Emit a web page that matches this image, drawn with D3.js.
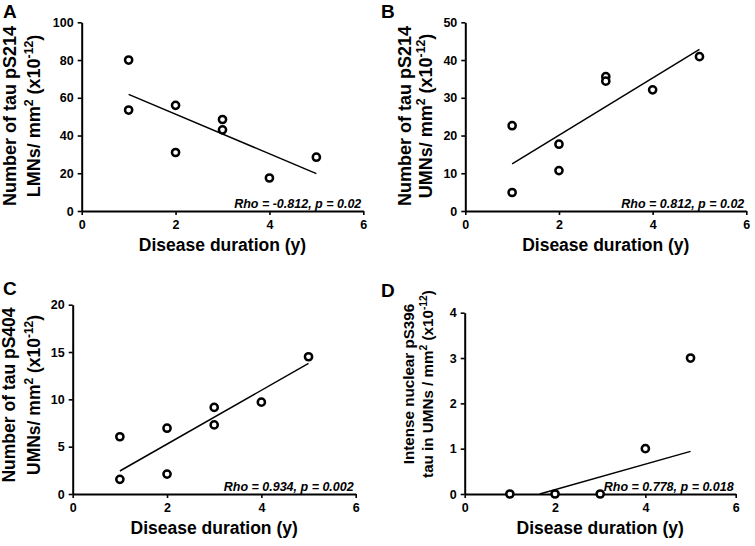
<!DOCTYPE html>
<html><head><meta charset="utf-8">
<script src="https://cdn.jsdelivr.net/npm/d3@7"></script>
<style>
body{margin:0;background:#fff;}
svg{display:block;}
text{font-family:"Liberation Sans",Arial,sans-serif;fill:#000;}
</style></head>
<body>
<script>
// ---- data ----
const xTicks = [0, 2, 4, 6];
const xLabel = "Disease duration (y)";

const durationA = [1, 1, 2, 2, 3, 3, 4, 5];
const tauA = [80, 53.5, 56, 31, 48.5, 43, 17.5, 28.5];
const fitA = [[1, 61.8], [5, 19.8]];
const yTicksA = [0, 20, 40, 60, 80, 100];
const statA = "Rho = -0.812, p = 0.02";

const durationB = [1, 1, 2, 2, 3, 3, 4, 5];
const tauB = [22.6, 4.9, 17.7, 10.7, 35.6, 34.4, 32.1, 40.9];
const fitB = [[1, 12.5], [5, 42.8]];
const yTicksB = [0, 10, 20, 30, 40, 50];
const statB = "Rho = 0.812, p = 0.02";

const durationC = [1, 1, 2, 2, 3, 3, 4, 5];
const tauC = [6.05, 1.55, 6.95, 2.1, 9.15, 7.3, 9.7, 14.5];
const fitC = [[1, 2.43], [5, 13.8]];
const yTicksC = [0, 5, 10, 15, 20];
const statC = "Rho = 0.934, p = 0.002";

const durationD = [1, 2, 3, 4, 5];
const tauD = [0, 0, 0, 1, 3];
const fitD = [[1.66, 0], [5, 0.94]];
const yTicksD = [0, 1, 2, 3, 4];
const statD = "Rho = 0.778, p = 0.018";

// ---- layout ----
const W = 755, H = 546;
const svg = d3.select("body").append("svg").attr("width", W).attr("height", H);

const panels = [
  {letter:"A", lx:3, ly:18, x0:81.7, x1:363.3, y0:211, y1:22.3, xs:durationA, ys:tauA, fit:fitA, yTicks:yTicksA, stat:statA,
   lab1:["Number of tau pS214"], lab2:"LMNs/ mm", fs:18, b1:16, b2:40, cy:116},
  {letter:"B", lx:381, ly:18, x0:465.3, x1:746.3, y0:211, y1:22.3, xs:durationB, ys:tauB, fit:fitB, yTicks:yTicksB, stat:statB,
   lab1:["Number of tau pS214"], lab2:"UMNs/ mm", fs:18, b1:411, b2:432, cy:116},
  {letter:"C", lx:3, ly:295, x0:72.7, x1:355.7, y0:494, y1:304.7, xs:durationC, ys:tauC, fit:fitC, yTicks:yTicksC, stat:statC,
   lab1:["Number of tau pS404"], lab2:"UMNs/ mm", fs:17.5, b1:15, b2:40, cy:395},
  {letter:"D", lx:381, ly:297, x0:464.7, x1:735.7, y0:494, y1:312.7, xs:durationD, ys:tauD, fit:fitD, yTicks:yTicksD, stat:statD,
   lab1:["Intense nuclear pS396"], lab2:"tau in UMNs / mm", fs:15.2, b1:414, b2:433, cy:384}
];

panels.forEach(p => {
  const x = d3.scaleLinear().domain([0, 6]).range([p.x0, p.x1]);
  const yMax = p.yTicks[p.yTicks.length - 1];
  const y = d3.scaleLinear().domain([0, yMax]).range([p.y0, p.y1]);
  const g = svg.append("g");

  // panel letter
  g.append("text").attr("x", p.lx).attr("y", p.ly).style("font-size", "19px").style("font-weight", "bold").text(p.letter);

  // axes
  const fmt = d3.format("d");
  const xa = g.append("g").attr("transform", `translate(0,${p.y0})`)
    .call(d3.axisBottom(x).tickValues(xTicks).tickFormat(fmt).tickSize(4).tickPadding(5).tickSizeOuter(0));
  const ya = g.append("g").attr("transform", `translate(${p.x0},0)`)
    .call(d3.axisLeft(y).tickValues(p.yTicks).tickFormat(fmt).tickSize(4).tickPadding(4).tickSizeOuter(0));
  [xa, ya].forEach(a => {
    a.select(".domain").attr("stroke", "#000").attr("stroke-width", 2);
    a.selectAll(".tick line").attr("stroke", "#000").attr("stroke-width", 1.6);
    a.selectAll(".tick text").style("font-size", "12.5px").style("font-weight", "bold")
      .style("font-family", "'Liberation Sans',Arial,sans-serif").attr("fill", "#000");
  });

  // x label
  g.append("text").attr("x", (p.x0 + p.x1) / 2).attr("y", p.y0 + 40).attr("text-anchor", "middle")
    .style("font-size", "17.5px").style("font-weight", "bold").text(xLabel);

  // y label (two lines)
  g.append("text").attr("transform", `translate(${p.b1},${p.cy}) rotate(-90)`)
    .attr("text-anchor", "middle").style("font-size", p.fs + "px").style("font-weight", "bold").text(p.lab1[0]);
  const t2 = g.append("text").attr("transform", `translate(${p.b2},${p.cy}) rotate(-90)`)
    .attr("text-anchor", "middle").style("font-size", p.fs + "px").style("font-weight", "bold");
  t2.append("tspan").text(p.lab2);
  t2.append("tspan").attr("dy", -p.fs * 0.4).style("font-size", (p.fs * 0.68) + "px").text("2");
  t2.append("tspan").attr("dy", p.fs * 0.4).text(" (x10");
  t2.append("tspan").attr("dy", -p.fs * 0.4).style("font-size", (p.fs * 0.68) + "px").text("-12");
  t2.append("tspan").attr("dy", p.fs * 0.4).text(")");

  // fit line
  g.append("line").attr("x1", x(p.fit[0][0])).attr("y1", y(p.fit[0][1]))
    .attr("x2", x(p.fit[1][0])).attr("y2", y(p.fit[1][1]))
    .attr("stroke", "#000").attr("stroke-width", 1.5);

  // points
  g.selectAll("circle.pt").data(p.xs.map((v, i) => [v, p.ys[i]])).enter().append("circle")
    .attr("cx", d => x(d[0])).attr("cy", d => y(d[1])).attr("r", 3.6)
    .attr("fill", "#fff").attr("stroke", "#000").attr("stroke-width", 2.5);

  // stat text
  g.append("text").attr("x", p.x1 - 2).attr("y", p.y0 - 3.5).attr("text-anchor", "end")
    .style("font-size", "12.5px").style("font-weight", "bold").style("font-style", "italic").text(p.stat);
});
</script>
</body></html>
